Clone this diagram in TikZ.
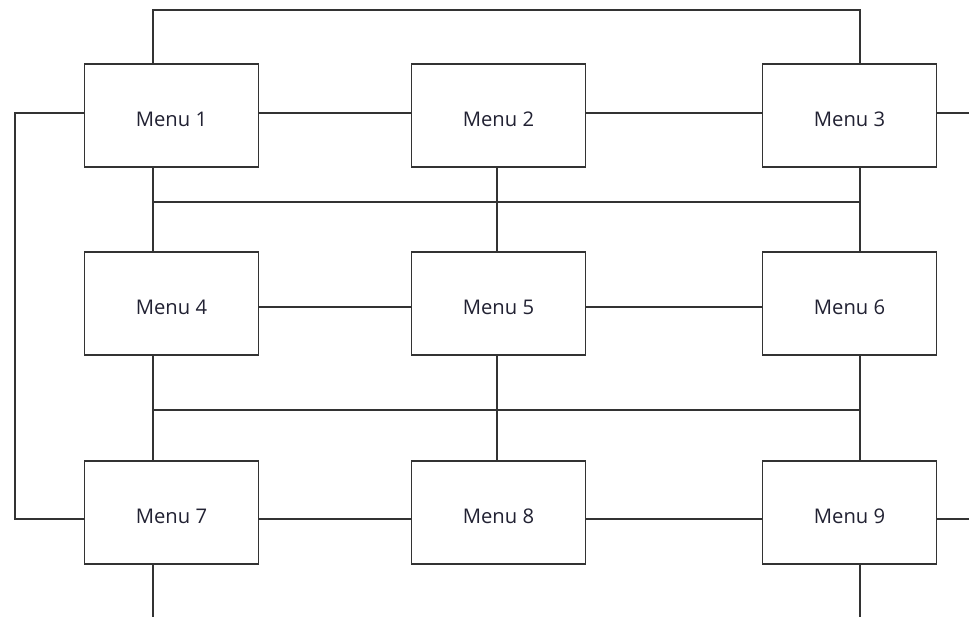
\documentclass[tikz,border=0pt]{standalone}
\usepackage{fontspec}
\setsansfont{Open Sans}
\usetikzlibrary{positioning, calc}
\definecolor{cline}{HTML}{333333}
\definecolor{ctext}{HTML}{222233}
\tikzset{
  every picture/.style={font=\sffamily, line width=1.1pt},
  menubox/.style={draw=cline, fill=white, minimum width=3.48cm, minimum height=2.06cm, inner sep=0pt, text height=12.5pt, text depth=0pt, text=ctext, font=\sffamily\fontsize{11.5}{13}\selectfont},
  wire/.style={draw=cline, line width=1.1pt},
}
\begin{document}
\begin{tikzpicture}[x=0.02cm, y=-0.02cm]
  \useasboundingbox (0,0) rectangle (969,617);
  % columns, rows and buses (pixel grid)
  \coordinate (c1) at (153,0);
  \coordinate (c2) at (497,0);
  \coordinate (c3) at (860,0);
  \coordinate (lft) at (15,0);
  \coordinate (rgt) at (969,0);
  \coordinate (top) at (0,10);
  \coordinate (r1) at (0,113);
  \coordinate (r2) at (0,307);
  \coordinate (r3) at (0,519);
  \coordinate (bus1) at (0,202);
  \coordinate (bus2) at (0,410);
  \coordinate (bot) at (0,617);
  % menus
  \node[menubox] (m1) at (171.5,115.5) {Menu 1};
  \node[menubox] (m2) at (498.5,115.5) {Menu 2};
  \node[menubox] (m3) at (849.5,115.5) {Menu 3};
  \node[menubox] (m4) at (171.5,303.5) {Menu 4};
  \node[menubox] (m5) at (498.5,303.5) {Menu 5};
  \node[menubox] (m6) at (849.5,303.5) {Menu 6};
  \node[menubox] (m7) at (171.5,512.5) {Menu 7};
  \node[menubox] (m8) at (498.5,512.5) {Menu 8};
  \node[menubox] (m9) at (849.5,512.5) {Menu 9};
  % outer loops
  \draw[wire] (m1.north -| c1) -- (c1 |- top) -| (m3.north -| c3);
  \draw[wire] (m1.west |- r1) -- (lft |- r1) |- (m7.west |- r3);
  \draw[wire] (m3.east |- r1) -- (rgt |- r1);
  \draw[wire] (m9.east |- r3) -- (rgt |- r3);
  \draw[wire] (m7.south -| c1) -- (c1 |- bot);
  \draw[wire] (m9.south -| c3) -- (c3 |- bot);
  % rows
  \draw[wire] (m1.east |- r1) -- (m2.west |- r1);
  \draw[wire] (m2.east |- r1) -- (m3.west |- r1);
  \draw[wire] (m4.east |- r2) -- (m5.west |- r2);
  \draw[wire] (m5.east |- r2) -- (m6.west |- r2);
  \draw[wire] (m7.east |- r3) -- (m8.west |- r3);
  \draw[wire] (m8.east |- r3) -- (m9.west |- r3);
  % buses
  \draw[wire] (c1 |- bus1) -- (c3 |- bus1);
  \draw[wire] (c1 |- bus2) -- (c3 |- bus2);
  \draw[wire] (m1.south -| c1) -- (m4.north -| c1);
  \draw[wire] (m2.south -| c2) -- (m5.north -| c2);
  \draw[wire] (m3.south -| c3) -- (m6.north -| c3);
  \draw[wire] (m4.south -| c1) -- (m7.north -| c1);
  \draw[wire] (m5.south -| c2) -- (m8.north -| c2);
  \draw[wire] (m6.south -| c3) -- (m9.north -| c3);
\end{tikzpicture}
\end{document}
